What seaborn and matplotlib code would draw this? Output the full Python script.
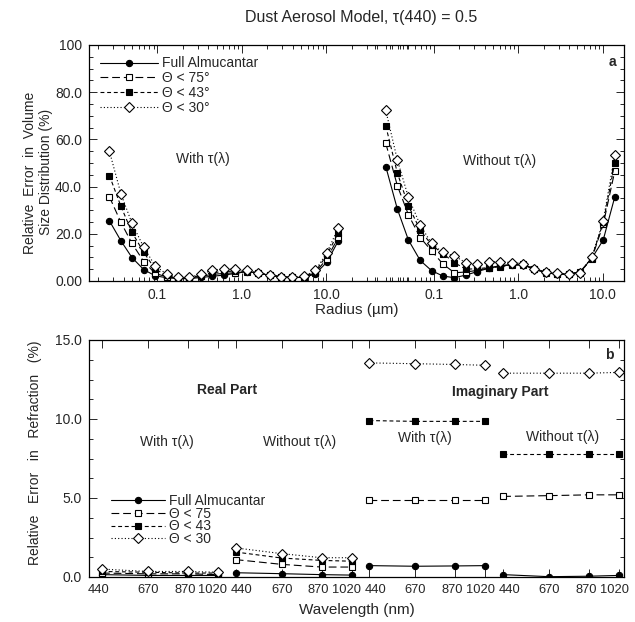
import numpy as np
import pandas as pd
import matplotlib
matplotlib.use("Agg")
import matplotlib.pyplot as plt
import matplotlib.transforms as mtrans
import seaborn as sns
from matplotlib.ticker import FixedLocator, FixedFormatter

# ---------------- data ----------------
radius = [0.027, 0.037, 0.050, 0.069, 0.094, 0.128, 0.175, 0.239, 0.327, 0.446,
          0.610, 0.833, 1.14, 1.55, 2.12, 2.90, 3.96, 5.41, 7.39, 10.1, 13.8]

# panel a, "With tau(lambda)"
with_full = [25.5, 17.0, 9.9, 4.8, 2.2, 1.4, 1.0, 1.0, 1.5, 2.0, 2.5, 3.2, 4.0, 3.4, 2.4, 1.8, 1.5, 1.5, 3.0, 8.0, 17.0]
with_t75 = [35.7, 24.8, 15.9, 8.2, 3.2, 1.8, 1.2, 1.2, 2.0, 2.8, 3.2, 3.5, 4.0, 3.4, 2.4, 1.8, 1.5, 1.6, 3.5, 9.5, 18.5]
with_t43 = [44.7, 31.6, 20.6, 12.1, 5.0, 2.5, 1.2, 1.2, 2.5, 3.5, 4.0, 4.2, 4.2, 3.5, 2.5, 1.8, 1.5, 1.8, 4.0, 11.0, 20.5]
with_t30 = [55.0, 36.9, 24.4, 14.2, 6.4, 3.0, 1.5, 1.5, 3.0, 4.5, 5.0, 5.0, 4.5, 3.6, 2.5, 1.8, 1.6, 2.0, 4.5, 12.0, 22.5]

# panel a, "Without tau(lambda)"
wo_full = [48.5, 30.5, 17.4, 8.7, 4.4, 2.1, 1.4, 2.5, 4.0, 5.4, 6.4, 6.8, 6.8, 5.0, 3.5, 2.9, 2.9, 4.0, 9.6, 17.4, 35.5]
wo_t75 = [58.4, 40.4, 28.1, 18.4, 12.8, 7.2, 3.5, 3.8, 4.5, 5.5, 6.5, 7.0, 7.0, 5.0, 3.5, 2.9, 2.9, 4.0, 9.5, 24.0, 46.4]
wo_t43 = [65.7, 45.8, 31.9, 21.6, 15.3, 11.6, 7.8, 5.0, 5.2, 5.7, 6.0, 6.8, 6.8, 5.2, 3.8, 3.0, 3.0, 3.5, 9.9, 24.8, 49.9]
wo_t30 = [72.3, 51.3, 35.5, 23.7, 15.9, 12.1, 10.6, 7.8, 7.1, 8.1, 8.2, 7.8, 7.4, 5.2, 3.8, 3.2, 3.0, 3.5, 10.2, 25.5, 53.2]

# panel b
wavelength = [440, 670, 870, 1020]
real_with_full = [0.15, 0.10, 0.10, 0.10]
real_with_t75 = [0.25, 0.20, 0.20, 0.15]
real_with_t43 = [0.35, 0.30, 0.25, 0.25]
real_with_t30 = [0.50, 0.35, 0.35, 0.30]

real_wo_full = [0.27, 0.21, 0.15, 0.12]
real_wo_t75 = [1.10, 0.80, 0.63, 0.63]
real_wo_t43 = [1.58, 1.20, 1.05, 1.00]
real_wo_t30 = [1.84, 1.48, 1.22, 1.22]

imag_with_full = [0.72, 0.68, 0.70, 0.72]
imag_with_t75 = [4.85, 4.85, 4.85, 4.85]
imag_with_t43 = [9.90, 9.85, 9.85, 9.85]
imag_with_t30 = [13.55, 13.50, 13.45, 13.40]

imag_wo_full = [0.15, 0.02, 0.05, 0.10]
imag_wo_t75 = [5.10, 5.15, 5.20, 5.20]
imag_wo_t43 = [7.80, 7.80, 7.80, 7.80]
imag_wo_t30 = [12.90, 12.90, 12.90, 12.95]

labels_a = ["Full Almucantar", "\u0398 < 75\u00b0", "\u0398 < 43\u00b0", "\u0398 < 30\u00b0"]
labels_b = ["Full Almucantar", "\u0398 < 75", "\u0398 < 43", "\u0398 < 30"]
radius_ticklabels = ["0.1", "1.0", "10.0"]
radius_ticks = [0.1, 1.0, 10.0]
ya_ticks = [0, 20, 40, 60, 80, 100]
ya_ticklabels = ["0.00", "20.0", "40.0", "60.0", "80.0", "100"]
yb_ticks = [0, 5, 10, 15]
yb_ticklabels = ["0.0", "5.0", "10.0", "15.0"]

# ---------------- style ----------------
sns.set_style("ticks")
plt.rcParams['font.family'] = ['Liberation Sans', 'DejaVu Sans']
plt.rcParams['font.size'] = 10
plt.rcParams['axes.linewidth'] = 0.9

STY = [
    dict(marker='o', ms=4.5, mfc='black', linestyle='-'),
    dict(marker='s', ms=4.3, mfc='white', linestyle=(0, (7, 3.5))),
    dict(marker='s', ms=4.3, mfc='black', linestyle=(0, (3.5, 2.5))),
    dict(marker='D', ms=4.6, mfc='white', linestyle=(0, (1, 2))),
]


def draw(ax, x, y, k, label=None):
    s = STY[k]
    sns.lineplot(x=x, y=y, ax=ax, color='black', lw=0.8, marker=s['marker'],
                 ms=s['ms'], mfc=s['mfc'], mec='black', mew=0.8,
                 linestyle=s['linestyle'], label=label, legend=False, sort=False)
    return ax.lines[-1]


fig = plt.figure(figsize=(6.35, 6.22), dpi=100)
ax1 = fig.add_axes([89 / 635, 1 - 281 / 622, 535 / 635, 236 / 622])
ax2 = fig.add_axes([89 / 635, 1 - 577 / 622, 535 / 635, 237 / 622])

# ---------- panel a ----------
SHIFT = 3.27  # decades between the two radius segments
logr = np.log10(radius)
handles = []
for k, ys in enumerate([with_full, with_t75, with_t43, with_t30]):
    handles.append(draw(ax1, logr, ys, k))
for k, ys in enumerate([wo_full, wo_t75, wo_t43, wo_t30]):
    draw(ax1, logr + SHIFT, ys, k)

ax1.set_xlim(-1.81, 4.52)
ax1.set_ylim(0, 100)
maj = list(np.log10(radius_ticks)) + list(np.log10(radius_ticks) + SHIFT)
ax1.xaxis.set_major_locator(FixedLocator(maj))
ax1.xaxis.set_major_formatter(FixedFormatter(radius_ticklabels * 2))
mins = []
for off in (0, SHIFT):
    for dec in (0.01, 0.1, 1, 10):
        for m in range(2, 10):
            v = np.log10(m * dec) + off
            if -1.81 < v < 4.52:
                mins.append(v)
ax1.xaxis.set_minor_locator(FixedLocator(mins))
ax1.yaxis.set_major_locator(FixedLocator(ya_ticks))
ax1.yaxis.set_major_formatter(FixedFormatter(ya_ticklabels))
ax1.yaxis.set_minor_locator(FixedLocator(np.arange(0, 101, 5)))
ax1.set_xlabel("Radius (\u00b5m)", fontsize=11, labelpad=1)
ax1.set_ylabel("")
ax1.legend(handles, labels_a, loc='upper left', bbox_to_anchor=(0.01, 0.975),
           frameon=False, fontsize=10, handlelength=4.2, labelspacing=0.05,
           handletextpad=0.3, borderaxespad=0)
ax1.text(0.213, 0.515, "With \u03c4(\u03bb)", transform=ax1.transAxes, ha='center', va='center', fontsize=10)
ax1.text(0.768, 0.51, "Without \u03c4(\u03bb)", transform=ax1.transAxes, ha='center', va='center', fontsize=10)
ax1.text(0.985, 0.93, "a", transform=ax1.transAxes, ha='right', va='center', fontsize=10, fontweight='bold')

# ---------- panel b ----------
GSHIFT = 670
groups = [
    [real_with_full, real_with_t75, real_with_t43, real_with_t30],
    [real_wo_full, real_wo_t75, real_wo_t43, real_wo_t30],
    [imag_with_full, imag_with_t75, imag_with_t43, imag_with_t30],
    [imag_wo_full, imag_wo_t75, imag_wo_t43, imag_wo_t30],
]
handles_b = []
for g, grp in enumerate(groups):
    xs = np.array(wavelength) + g * GSHIFT
    for k, ys in enumerate(grp):
        h = draw(ax2, xs, ys, k)
        if g == 0:
            handles_b.append(h)

ax2.set_xlim(375, 3055)
ax2.set_ylim(0, 15)
xt = [w + g * GSHIFT for g in range(4) for w in wavelength]
ax2.xaxis.set_major_locator(FixedLocator(xt))
ax2.xaxis.set_major_formatter(FixedFormatter([str(w) for w in wavelength] * 4))
ax2.yaxis.set_major_locator(FixedLocator(yb_ticks))
ax2.yaxis.set_major_formatter(FixedFormatter(yb_ticklabels))
ax2.yaxis.set_minor_locator(FixedLocator(np.arange(0, 15.01, 1.25)))
ax2.set_xlabel("Wavelength (nm)", fontsize=11, labelpad=5)
ax2.set_ylabel("")
ax2.legend(handles_b, labels_b, loc='upper left', bbox_to_anchor=(0.03, 0.375),
           frameon=False, fontsize=10, handlelength=3.9, labelspacing=-0.08,
           handletextpad=0.3, borderaxespad=0)
ax2.text(0.258, 0.789, "Real Part", transform=ax2.transAxes, ha='center', va='center', fontsize=10, fontweight='bold')
ax2.text(0.768, 0.781, "Imaginary Part", transform=ax2.transAxes, ha='center', va='center', fontsize=10, fontweight='bold')
ax2.text(0.146, 0.570, "With \u03c4(\u03bb)", transform=ax2.transAxes, ha='center', va='center', fontsize=10)
ax2.text(0.394, 0.570, "Without \u03c4(\u03bb)", transform=ax2.transAxes, ha='center', va='center', fontsize=10)
ax2.text(0.628, 0.586, "With \u03c4(\u03bb)", transform=ax2.transAxes, ha='center', va='center', fontsize=10)
ax2.text(0.886, 0.591, "Without \u03c4(\u03bb)", transform=ax2.transAxes, ha='center', va='center', fontsize=10)
ax2.text(0.98, 0.935, "b", transform=ax2.transAxes, ha='right', va='center', fontsize=10, fontweight='bold')

for ax in (ax1, ax2):
    ax.tick_params(which='both', direction='in', top=True, right=True, labelsize=10, width=0.7)
    ax.tick_params(which='major', length=6, pad=5)
    ax.tick_params(which='minor', length=3)
    for sp in ax.spines.values():
        sp.set_visible(True)
        sp.set_color('black')
ax2.tick_params(axis='x', labelsize=9.3)

# nudge crowded wavelength labels apart (as in the reference layout)
shift_px = {"440": 6, "670": 0, "870": -3, "1020": -5}
for i, lab in enumerate(ax2.get_xticklabels()):
    txt = lab.get_text()
    dx = shift_px.get(txt, 0)
    if i == 0:
        dx = -3
    lab.set_transform(lab.get_transform() + mtrans.ScaledTranslation(dx / 100, 0, fig.dpi_scale_trans))

fig.text(0.568, 0.972, "Dust Aerosol Model, \u03c4(440) = 0.5", ha='center', va='center', fontsize=11.5)
fig.text(30 / 635, 1 - 173 / 622, "Relative  Error  in  Volume", rotation=90, ha='center', va='center', fontsize=10)
fig.text(46 / 635, 1 - 172 / 622, "Size Distribution (%)", rotation=90, ha='center', va='center', fontsize=10)
fig.text(35 / 635, 1 - 453 / 622, "Relative   Error   in   Refraction   (%)", rotation=90, ha='center', va='center', fontsize=10)

fig.savefig("out.png", dpi=100)
